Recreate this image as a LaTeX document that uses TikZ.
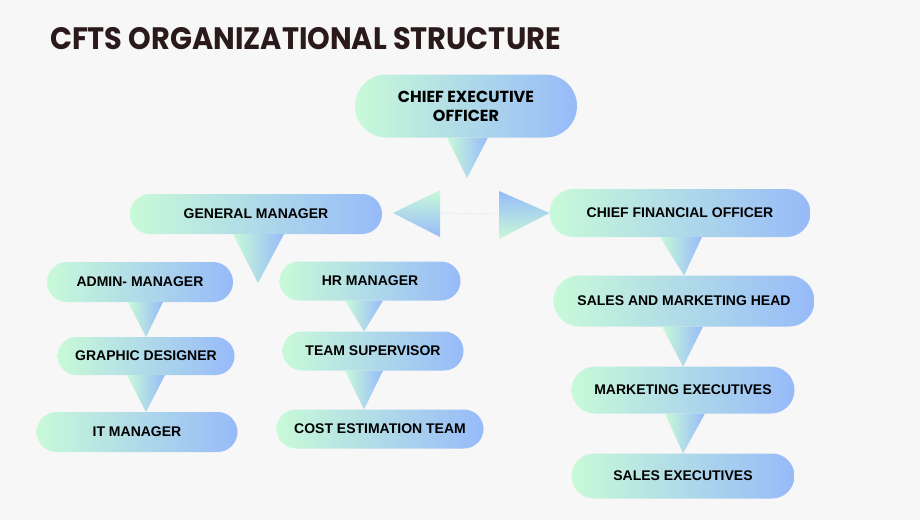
\documentclass[tikz,border=0pt]{standalone}
\usepackage{fontspec}
\usepackage{graphicx}
\setmainfont{Liberation Sans}
\newfontfamily\headfont{Poppins}
\usetikzlibrary{shapes.misc,calc}
\definecolor{mint}{HTML}{C8FAD8}
\definecolor{sky}{HTML}{97BAF9}
\definecolor{paper}{HTML}{F7F7F7}
\definecolor{cocoa}{HTML}{2B1A1B}

\begin{document}
\begin{tikzpicture}
[x=1pt,y=-1pt,font=\fontsize{14}{16}\selectfont\bfseries]
\tikzstyle{pill}=[rounded rectangle,inner sep=0pt,outer sep=0pt,left color=mint,right color=sky,text=black]
\tikzstyle{drop}=[left color=mint,right color=sky]
\tikzstyle{headline}=[anchor=west,inner sep=0pt,font=\headfont\fontsize{31}{33}\selectfont\bfseries]
\fill[paper] (0,0) rectangle (920,520);
\useasboundingbox (0,0) rectangle (920,520);

\node[headline,text=cocoa] (title) at (50,39) {\scalebox{.93}[1]{CFTS ORGANIZATIONAL STRUCTURE}};

\node[pill,minimum width=222,minimum height=63,align=center,font=\headfont\fontsize{16}{19}\selectfont\bfseries] (ceo) at (466,106) {CHIEF EXECUTIVE\\OFFICER};
\node[pill,minimum width=252,minimum height=40] (gm) at (256,214) {GENERAL MANAGER};
\node[pill,minimum width=261,minimum height=48] (cfo) at (680,213) {CHIEF FINANCIAL OFFICER};
\node[pill,minimum width=186,minimum height=40] (admin) at (140,282) {ADMIN- MANAGER};
\node[pill,minimum width=177,minimum height=38] (graphic) at (146,356) {GRAPHIC DESIGNER};
\node[pill,minimum width=201,minimum height=40] (it) at (137,432) {IT MANAGER};
\node[pill,minimum width=181,minimum height=39] (hr) at (370,281) {HR MANAGER};
\node[pill,minimum width=181,minimum height=39] (ts) at (373,351) {TEAM SUPERVISOR};
\node[pill,minimum width=207,minimum height=39] (cost) at (380,429) {COST ESTIMATION TEAM};
\node[pill,minimum width=261,minimum height=51] (smh) at (684,301) {SALES AND MARKETING HEAD};
\node[pill,minimum width=223,minimum height=47] (me) at (683,390) {MARKETING EXECUTIVES};
\node[pill,minimum width=223,minimum height=45] (se) at (683,476) {SALES EXECUTIVES};

\coordinate (ceotip) at (467,178);
\coordinate (gmtip) at (258,283);
\coordinate (lt) at (440,213);
\coordinate (rt) at (499,214);

\shade[drop] ($(ceo.south)+(-19,0)$) -- ($(ceo.south)+(22,0)$) -- (ceotip) -- cycle;
\shade[drop] ($(gm.south)+(-23,0)$) -- ($(gm.south)+(28,0)$) -- (gmtip) -- cycle;
\shade[drop] ($(admin.south)+(-12,0)$) -- ($(admin.south)+(23,0)$) -- (graphic.north) -- cycle;
\shade[drop] ($(graphic.south)+(-19,0)$) -- ($(graphic.south)+(19,0)$) -- ($(it.north)+(9,0)$) -- cycle;
\shade[drop] ($(hr.south)+(-25,0)$) -- ($(hr.south)+(13,0)$) -- ($(ts.north)+(-9,0)$) -- cycle;
\shade[drop] ($(ts.south)+(-28,0)$) -- ($(ts.south)+(10,0)$) -- ($(cost.north)+(-16,0)$) -- cycle;
\shade[drop] ($(cfo.south)+(-20,0)$) -- ($(cfo.south)+(22,0)$) -- (smh.north) -- cycle;
\shade[drop] ($(smh.south)+(-22,0)$) -- ($(smh.south)+(19,0)$) -- (me.north) -- cycle;
\shade[drop] ($(me.south)+(-18,0)$) -- ($(me.south)+(22,0)$) -- (se.north) -- cycle;

\draw[black!8,line width=.6pt] (lt) -- (rt);
\shade[top color=mint,bottom color=sky] ($(gm.east)+(11,-1)$) -- ($(lt)+(0,-23)$) -- ($(lt)+(0,24)$) -- cycle;
\shade[top color=sky,bottom color=mint] ($(rt)+(0,-23)$) -- ($(rt)+(0,25)$) -- (cfo.west) -- cycle;
\end{tikzpicture}
\end{document}
